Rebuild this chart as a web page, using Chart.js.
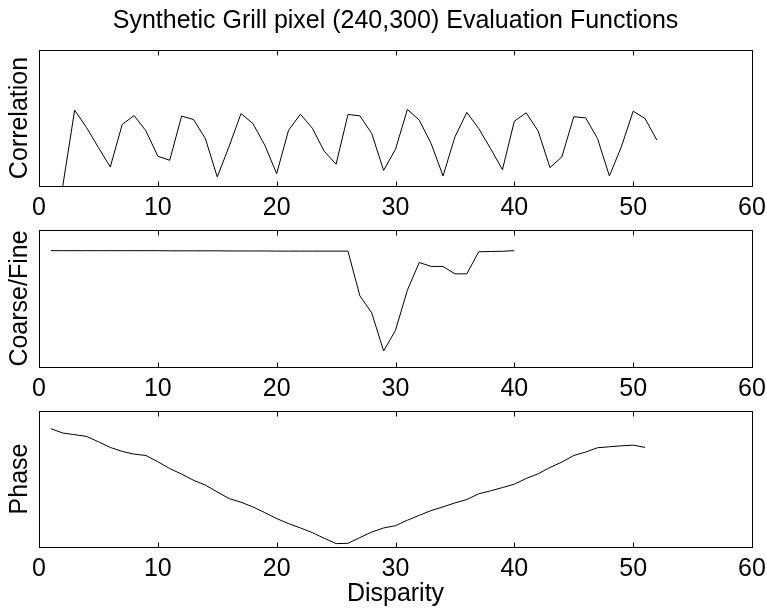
<!DOCTYPE html>
<html>
<head>
<meta charset="utf-8">
<script src="https://cdn.jsdelivr.net/npm/chart.js@4.4.1/dist/chart.umd.min.js"></script>
<style>
  html, body { margin: 0; padding: 0; background: #fff; }
  #wrap { position: relative; width: 767px; height: 609px; background: #fff; }
  canvas { position: absolute; left: 0; }
</style>
</head>
<body>
<div id="wrap">
  <canvas id="c1" width="767" height="222" style="top:0px"></canvas>
  <canvas id="c2" width="767" height="180" style="top:222px"></canvas>
  <canvas id="c3" width="767" height="207" style="top:402px"></canvas>
</div>
<script>
// ---- Data (y values are relative to each panel's axis range 0..1)
const titleText = 'Synthetic Grill pixel (240,300) Evaluation Functions';
const xAxisTitle = 'Disparity';
const xTickMin = 0, xTickMax = 60, xTickStep = 10;

const corrDisparity = [2,3,4,5,6,7,8,9,10,11,12,13,14,15,16,17,18,19,20,21,22,23,24,25,26,27,28,29,30,31,32,33,34,35,36,37,38,39,40,41,42,43,44,45,46,47,48,49,50,51,52];
const correlation = [0.0, 0.558, 0.430, 0.283, 0.140, 0.452, 0.518, 0.405, 0.219, 0.189,
  0.514, 0.489, 0.349, 0.066, 0.292, 0.533, 0.459, 0.300, 0.091, 0.410,
  0.528, 0.425, 0.256, 0.160, 0.526, 0.516, 0.386, 0.115, 0.270, 0.563,
  0.484, 0.312, 0.074, 0.361, 0.541, 0.423, 0.275, 0.120, 0.477, 0.538,
  0.405, 0.135, 0.214, 0.509, 0.501, 0.349, 0.074, 0.287, 0.550, 0.496, 0.337];

const cfDisparity = [1,2,3,4,5,6,7,8,9,10,11,12,13,14,15,16,17,18,19,20,21,22,23,24,25,26,27,28,29,30,31,32,33,34,35,36,37,38,39,40];
const coarseFine = [0.849, 0.849, 0.849, 0.849, 0.849, 0.849, 0.849, 0.849, 0.849, 0.849,
  0.848, 0.848, 0.848, 0.848, 0.848, 0.847, 0.847, 0.847, 0.847, 0.846,
  0.846, 0.846, 0.846, 0.846, 0.846, 0.846, 0.520, 0.395, 0.117, 0.268,
  0.561, 0.763, 0.734, 0.734, 0.680, 0.680, 0.841, 0.843, 0.845, 0.849];

const phaseDisparity = [1,2,3,4,5,6,7,8,9,10,11,12,13,14,15,16,17,18,19,20,21,22,23,24,25,26,27,28,29,30,31,32,33,34,35,36,37,38,39,40,41,42,43,44,45,46,47,48,49,50,51];
const phase = [0.870, 0.838, 0.826, 0.813, 0.774, 0.732, 0.703, 0.683, 0.673, 0.627,
  0.577, 0.536, 0.491, 0.455, 0.405, 0.356, 0.329, 0.295, 0.253, 0.209,
  0.172, 0.140, 0.106, 0.064, 0.025, 0.027, 0.069, 0.110, 0.140, 0.157,
  0.197, 0.233, 0.268, 0.295, 0.324, 0.349, 0.391, 0.413, 0.437, 0.462,
  0.504, 0.538, 0.585, 0.624, 0.673, 0.698, 0.730, 0.737, 0.744, 0.749, 0.732];

// ---- Styling
const FONT = '"Liberation Sans", Arial, Helvetica, sans-serif';
Chart.defaults.font.family = FONT;
Chart.defaults.font.size = 25;
Chart.defaults.color = '#000';

const framePlugin = {
  id: 'frame',
  afterDatasetsDraw(chart) {
    const { ctx, chartArea: a, scales: { x } } = chart;
    ctx.save();
    ctx.strokeStyle = '#000';
    ctx.lineWidth = 1;
    const l = Math.round(a.left) + 0.5, t = Math.round(a.top) + 0.5;
    const r = Math.round(a.right) + 0.5, b = Math.round(a.bottom) + 0.5;
    ctx.strokeRect(l, t, r - l, b - t);
    ctx.beginPath();
    for (const tk of x.ticks) {
      const px = Math.round(x.getPixelForValue(tk.value)) + 0.5;
      ctx.moveTo(px, b); ctx.lineTo(px, b - 5);
      ctx.moveTo(px, t); ctx.lineTo(px, t + 5);
    }
    ctx.stroke();
    ctx.restore();
  }
};

function makePanel(id, xs, ys, yLabel, opts) {
  const pts = xs.map((v, i) => ({ x: v, y: ys[i] }));
  return new Chart(document.getElementById(id), {
    type: 'line',
    data: { datasets: [{ data: pts, borderColor: '#000', borderWidth: 1, pointRadius: 0, tension: 0, fill: false }] },
    options: {
      responsive: false,
      animation: false,
      events: [],
      layout: { padding: { top: opts.padTop, right: 15, left: 0, bottom: 0 } },
      plugins: {
        legend: { display: false },
        tooltip: { enabled: false },
        title: opts.title ? {
          display: true, text: opts.title, fullSize: false,
          font: { size: 25, weight: 'normal', family: FONT }, color: '#000',
          padding: { top: 6, bottom: 14 }
        } : { display: false }
      },
      scales: {
        x: {
          type: 'linear', min: xTickMin, max: xTickMax,
          grid: { display: false, drawTicks: false },
          border: { display: false },
          ticks: { stepSize: xTickStep, padding: 7, font: { size: 25 }, color: '#000', maxRotation: 0 },
          title: opts.xTitle ? { display: true, text: opts.xTitle, font: { size: 25 }, color: '#000', padding: { top: 0, bottom: 0 } } : { display: false },
          afterFit(scale) { scale.height = opts.xHeight; scale.paddingLeft = 0; scale.paddingRight = 0; }
        },
        y: {
          min: 0, max: 1,
          grid: { display: false, drawTicks: false },
          border: { display: false },
          ticks: { display: false },
          title: { display: true, text: yLabel, font: { size: 25 }, color: '#000', padding: { top: 5, bottom: 0 } },
          afterFit(scale) { scale.width = 39; scale.paddingTop = 0; scale.paddingBottom = 0; }
        }
      }
    },
    plugins: [framePlugin]
  });
}

makePanel('c1', corrDisparity, correlation, 'Correlation', { padTop: 0, xHeight: 36, title: titleText });
makePanel('c2', cfDisparity, coarseFine, 'Coarse/Fine', { padTop: 8, xHeight: 35 });
makePanel('c3', phaseDisparity, phase, 'Phase', { padTop: 9, xHeight: 62, xTitle: xAxisTitle });
</script>
</body>
</html>
